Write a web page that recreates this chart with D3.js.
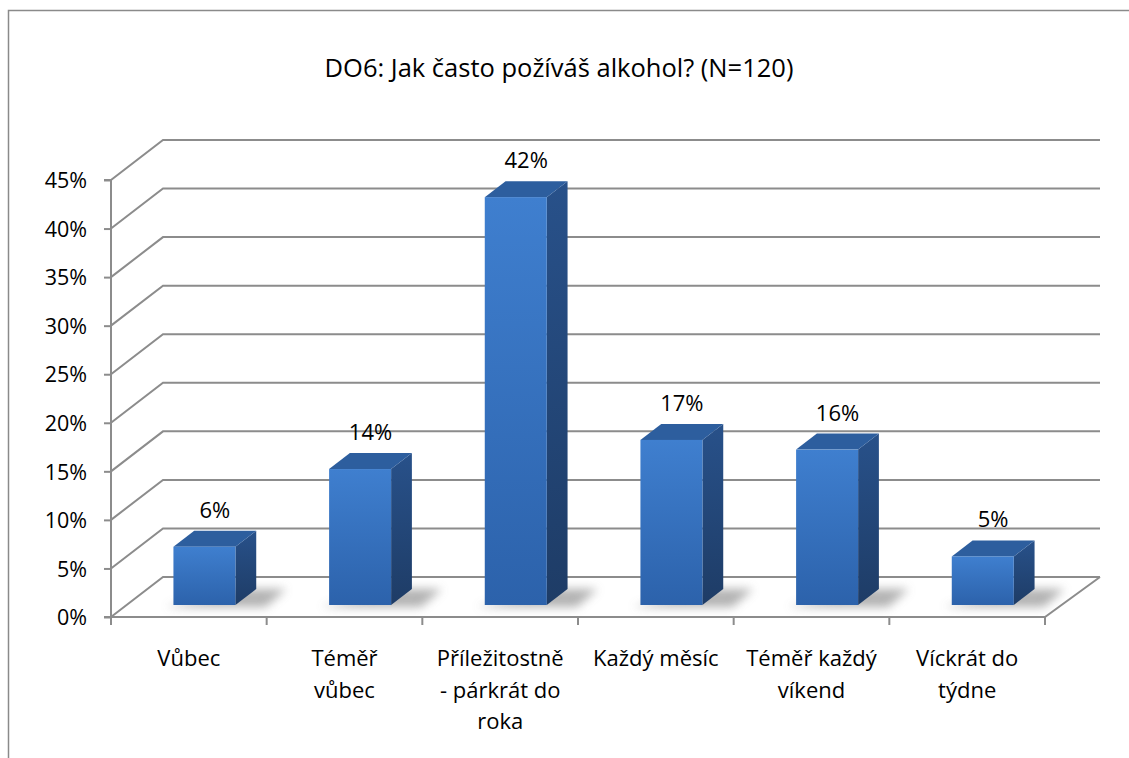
<!DOCTYPE html>
<html>
<head>
<meta charset="utf-8">
<script src="https://cdn.jsdelivr.net/npm/d3@7"></script>
<style>
  html, body { margin: 0; padding: 0; background: #fff; }
  svg { display: block; font-family: "Open Sans", "Noto Sans", sans-serif; }
</style>
</head>
<body>
<svg id="chart" width="1129" height="758"></svg>
<script>
// Survey answers: how often the respondent drinks alcohol (N=120)
const title = "DO6: Jak často požíváš alkohol? (N=120)";
const categories = [
  ["Vůbec"],
  ["Téměř", "vůbec"],
  ["Příležitostně", "- párkrát do", "roka"],
  ["Každý měsíc"],
  ["Téměř každý", "víkend"],
  ["Víckrát do", "týdne"]
];
const values = [6, 14, 42, 17, 16, 5];
const yTicks = [0, 5, 10, 15, 20, 25, 30, 35, 40, 45];

const svg = d3.select("#chart");
const defs = svg.append("defs");

// 3D frame: front plane, wall depth offsets
const left = 111, right = 1045, floorY = 617, topY = 180;
const depthX = 52, depthY = -40, backRight = 1100;
const tickFont = 21.5, labelFont = 22;

const x = d3.scaleBand()
  .domain(d3.range(categories.length))
  .range([left, right]);
const y = d3.scaleLinear().domain([0, 45]).range([floorY, topY]);

// project a point at front-plane x, value v and depth z (0 = front, 1 = back wall)
const P = (px, v, z) => [px + depthX * z, y(v) + depthY * z];

// outer chart border
svg.append("path")
  .attr("d", "M8.5,758 V10.5 H1129")
  .attr("fill", "none").attr("stroke", "#8a8a8a").attr("stroke-width", 1.5);

// title
svg.append("text")
  .attr("x", 559).attr("y", 77)
  .attr("text-anchor", "middle")
  .attr("font-size", 25.5).attr("fill", "#000")
  .text(title);

const grid = svg.append("g")
  .attr("fill", "none").attr("stroke", "#8c8c8c").attr("stroke-width", 2);

// gridlines: side wall diagonal + back wall horizontal
yTicks.forEach(t => {
  const a = P(left, t, 0), b = P(left, t, 1);
  grid.append("path")
    .attr("d", `M${a[0]},${a[1]} L${b[0]},${b[1]} L${backRight},${b[1]}`);
});

// floor outline: front edge and right edge
{
  const f0 = P(left, 0, 0), f1 = P(right, 0, 0), f2 = P(right, 0, 1);
  grid.append("path")
    .attr("d", `M${f0[0]},${f0[1]} L${f1[0]},${f1[1]} L${backRight},${f2[1]}`);
}

// vertical axis with tick marks
const yAxis = d3.axisLeft(y)
  .tickValues(yTicks)
  .tickSize(7)
  .tickFormat(d => d + "%");
const yAxisG = svg.append("g")
  .attr("transform", `translate(${left},0)`)
  .call(yAxis);
yAxisG.attr("font-family", null).attr("font-size", null);
yAxisG.select(".domain").attr("stroke", "#8c8c8c").attr("stroke-width", 2)
  .attr("d", `M-7,${topY}H0V${floorY}H-7`);
yAxisG.selectAll(".tick line").attr("stroke", "#8c8c8c").attr("stroke-width", 2);
yAxisG.selectAll(".tick text")
  .attr("x", -24).attr("dy", "0.36em")
  .attr("font-size", tickFont).attr("fill", "#000");

// category tick marks under the floor front edge
const catTicks = d3.range(categories.length + 1).map(i => left + x.step() * i);
svg.append("g").selectAll("line").data(catTicks).join("line")
  .attr("x1", d => d).attr("x2", d => d)
  .attr("y1", floorY).attr("y2", floorY + 8)
  .attr("stroke", "#8c8c8c").attr("stroke-width", 2);

// category labels
const catG = svg.append("g").attr("font-size", labelFont).attr("fill", "#000")
  .attr("text-anchor", "middle");
categories.forEach((lines, i) => {
  const cx = x(i) + x.bandwidth() / 2;
  const t = catG.append("text").attr("x", cx).attr("y", 666);
  lines.forEach((ln, j) => {
    t.append("tspan")
      .attr("x", cx)
      .attr("dy", j === 0 ? 0 : 31.5)
      .text(ln);
  });
});

// gradients for bar faces
const gFront = defs.append("linearGradient").attr("id", "gFront")
  .attr("x1", 0).attr("y1", 0).attr("x2", 0).attr("y2", 1);
gFront.append("stop").attr("offset", 0).attr("stop-color", "#3f7fcf");
gFront.append("stop").attr("offset", 1).attr("stop-color", "#2c62ab");
const gSide = defs.append("linearGradient").attr("id", "gSide")
  .attr("x1", 0).attr("y1", 0).attr("x2", 0).attr("y2", 1);
gSide.append("stop").attr("offset", 0).attr("stop-color", "#28518a");
gSide.append("stop").attr("offset", 1).attr("stop-color", "#1e3c66");
const blur = defs.append("filter").attr("id", "shadowBlur")
  .attr("x", "-50%").attr("y", "-50%").attr("width", "200%").attr("height", "200%");
blur.append("feGaussianBlur").attr("stdDeviation", 5);

// bars: front at depth 0.3, back at depth 0.7
const zF = 0.3, zB = 0.7, barW = 62;
const bars = svg.append("g");
values.forEach((v, i) => {
  const cx = x(i) + x.bandwidth() / 2;
  const x0 = cx - barW / 2, x1 = cx + barW / 2;
  const fBL = P(x0, 0, zF), fBR = P(x1, 0, zF), fTL = P(x0, v, zF), fTR = P(x1, v, zF);
  const bBR = P(x1, 0, zB), bTL = P(x0, v, zB), bTR = P(x1, v, zB);
  const pts = a => a.map(p => p.join(",")).join(" ");

  // soft floor shadow cast to the right
  bars.append("polygon")
    .attr("points", pts([
      [fBL[0] - 8, fBL[1] + 2], [fBR[0] + 30, fBR[1] + 2],
      [bBR[0] + 30, bBR[1]], [bBR[0] - 10, bBR[1]]
    ]))
    .attr("fill", "#9a9a9a").attr("opacity", 0.75)
    .attr("filter", "url(#shadowBlur)");

  // right side face
  bars.append("polygon")
    .attr("points", pts([fBR, bBR, bTR, fTR]))
    .attr("fill", "url(#gSide)");
  // top face
  bars.append("polygon")
    .attr("points", pts([fTL, fTR, bTR, bTL]))
    .attr("fill", "#2d5e9e");
  // front face
  bars.append("rect")
    .attr("x", fTL[0]).attr("y", fTL[1])
    .attr("width", barW).attr("height", fBL[1] - fTL[1])
    .attr("fill", "url(#gFront)");

  // value label above the bar
  const mid = P(cx, v, 0.5);
  svg.append("text")
    .attr("x", mid[0]).attr("y", bTL[1] - 13)
    .attr("text-anchor", "middle")
    .attr("font-size", labelFont).attr("fill", "#000")
    .text(v + "%");
});
</script>
</body>
</html>
